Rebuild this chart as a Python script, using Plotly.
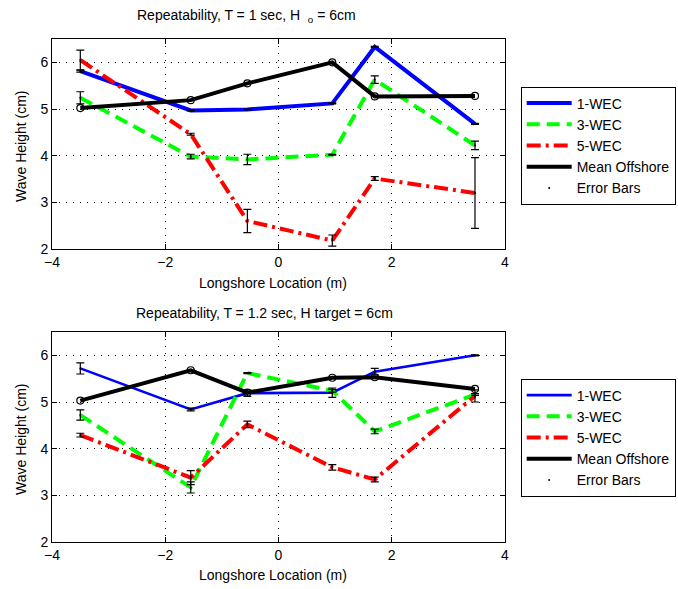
import plotly.graph_objects as go

# Longshore gauge locations (m)
x_loc = [-3.5, -1.55, -0.55, 0.95, 1.7, 3.47]

# T = 1 sec, Ho = 6 cm  -- mean wave heights (cm)
wec1_t1 = [5.81, 4.97, 4.99, 5.12, 6.33, 4.68]
wec3_t1 = [5.24, 3.98, 3.92, 4.02, 5.63, 4.22]
wec5_t1 = [6.05, 4.46, 2.60, 2.18, 3.51, 3.20]
mean_t1 = [5.02, 5.19, 5.55, 6.00, 5.27, 5.28]
# half-widths of the error bars (cm)
err1_t1 = [0.02, 0.01, 0.01, 0.01, 0.01, 0.01]
err3_t1 = [0.13, 0.05, 0.11, 0.01, 0.08, 0.09]
err5_t1 = [0.21, 0.02, 0.25, 0.12, 0.04, 0.76]

# T = 1.2 sec, H target = 6 cm
wec1_t2 = [5.72, 4.84, 5.19, 5.20, 5.65, 6.00]
wec3_t2 = [4.72, 3.17, 5.62, 5.24, 4.37, 5.16]
wec5_t2 = [4.29, 3.38, 4.52, 3.60, 3.34, 5.13]
mean_t2 = [5.03, 5.68, 5.20, 5.52, 5.53, 5.28]
err1_t2 = [0.12, 0.03, 0.07, 0.10, 0.07, 0.01]
err3_t2 = [0.11, 0.12, 0.01, 0.03, 0.05, 0.02]
err5_t2 = [0.04, 0.15, 0.07, 0.06, 0.05, 0.13]

titles = ["Repeatability, T = 1 sec, H&nbsp;&nbsp;<sub>o</sub> = 6cm",
          "Repeatability, T = 1.2 sec, H target = 6cm"]
x_title = "Longshore Location (m)"
y_title = "Wave Height (cm)"
series_names = ["1-WEC", "3-WEC", "5-WEC", "Mean Offshore", "Error Bars"]

W, H = 678, 589
ML, MR, MT, MB = 52, 173, 39, 47
PW, PH = W - ML - MR, H - MT - MB
FONT = "Arial, Liberation Sans, sans-serif"


def px_x(p):
    return (p - ML) / PW


def px_y(p):
    return 1 - (p - MT) / PH


panel_h = 210
top_dom = [1 - panel_h / PH, 1]
bot_dom = [0, panel_h / PH]

fig = go.Figure()

DASH_GREEN = "13px,7px"
DASH_RED = "14px,5px,3px,5px"


def add_panel(xa, ya, legend, w1, w3, w5, wm, e1, e3, e5, blue_w):
    common = dict(xaxis=xa, yaxis=ya, legend=legend, mode="lines")
    fig.add_trace(go.Scatter(x=x_loc, y=w1, name=series_names[0],
                             line=dict(color="#0000ff", width=blue_w), **common))
    fig.add_trace(go.Scatter(x=x_loc, y=w3, name=series_names[1],
                             line=dict(color="#00ff00", width=4, dash=DASH_GREEN), **common))
    fig.add_trace(go.Scatter(x=x_loc, y=w5, name=series_names[2],
                             line=dict(color="#ff0000", width=4, dash=DASH_RED), **common))
    fig.add_trace(go.Scatter(x=x_loc, y=wm, name=series_names[3],
                             line=dict(color="#000000", width=4), **common))
    fig.add_trace(go.Scatter(x=x_loc, y=wm, xaxis=xa, yaxis=ya, mode="markers",
                             showlegend=False, hoverinfo="skip",
                             marker=dict(symbol="circle-open", size=7, color="#000000",
                                         line=dict(width=1.2, color="#000000"))))
    fig.add_trace(go.Scatter(x=x_loc * 3, y=w1 + w3 + w5, name=series_names[4],
                             xaxis=xa, yaxis=ya, legend=legend, mode="markers",
                             marker=dict(size=2, color="#000000"),
                             error_y=dict(type="data", array=e1 + e3 + e5, visible=True,
                                          color="#000000", thickness=1.2, width=4)))


add_panel("x", "y", "legend", wec1_t1, wec3_t1, wec5_t1, mean_t1,
          err1_t1, err3_t1, err5_t1, 4)
add_panel("x2", "y2", "legend2", wec1_t2, wec3_t2, wec5_t2, mean_t2,
          err1_t2, err3_t2, err5_t2, 2.6)

axis_common = dict(showline=True, linecolor="#000000", linewidth=1, mirror="ticks",
                   ticks="inside", ticklen=5, tickcolor="#000000",
                   showgrid=True, gridcolor="#000000", gridwidth=1, griddash="1px,6px",
                   zeroline=False, tickfont=dict(family=FONT, size=14, color="#000000"))

legend_common = dict(bgcolor="#ffffff", bordercolor="#000000", borderwidth=1,
                     font=dict(family=FONT, size=14, color="#000000"),
                     itemwidth=45, xanchor="left", yanchor="top",
                     traceorder="normal", tracegroupgap=0)

txt_font = dict(family=FONT, size=14, color="#000000")
ann_common = dict(xref="paper", yref="paper", showarrow=False,
                  xanchor="center", yanchor="middle", font=txt_font)

annotations = [
    dict(text=titles[0], x=px_x(246.7), y=px_y(16), **ann_common),
    dict(text=titles[1], x=px_x(264), y=px_y(313), **ann_common),
    dict(text=x_title, x=px_x(272.5), y=px_y(282.7), **ann_common),
    dict(text=x_title, x=px_x(272.5), y=px_y(575), **ann_common),
    dict(text=y_title, x=px_x(21), y=px_y(146), textangle=-90, **ann_common),
    dict(text=y_title, x=px_x(21), y=px_y(439), textangle=-90, **ann_common),
]

fig.update_layout(
    width=W, height=H,
    margin=dict(l=ML, r=MR, t=MT, b=MB, autoexpand=False),
    paper_bgcolor="#ffffff", plot_bgcolor="#ffffff",
    font=dict(family=FONT, size=14, color="#000000"),
    xaxis=dict(domain=[0, 1], anchor="y", range=[-4, 4], dtick=2, **axis_common),
    yaxis=dict(domain=top_dom, anchor="x", range=[2, 6.5], dtick=1, **axis_common),
    xaxis2=dict(domain=[0, 1], anchor="y2", range=[-4, 4], dtick=2, **axis_common),
    yaxis2=dict(domain=bot_dom, anchor="x2", range=[2, 6.5], dtick=1, **axis_common),
    legend=dict(x=px_x(520.7), y=px_y(86.5), **legend_common),
    legend2=dict(x=px_x(520.7), y=px_y(378.5), **legend_common),
    annotations=annotations,
    showlegend=True,
)

fig.write_html("out.html")
